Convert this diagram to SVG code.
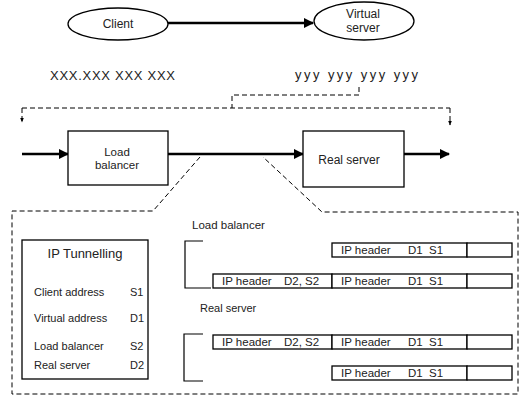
<svg xmlns="http://www.w3.org/2000/svg" width="522" height="398" viewBox="0 0 522 398">
<defs>
<marker id="ah" viewBox="0 0 10 10" refX="9" refY="5" markerWidth="4" markerHeight="4" orient="auto" markerUnits="strokeWidth">
<path d="M0,0 L10,5 L0,10 z" fill="#000"/>
</marker>
<marker id="ahs" viewBox="0 0 10 10" refX="9" refY="5" markerWidth="5" markerHeight="5" orient="auto" markerUnits="userSpaceOnUse">
<path d="M0,1 L10,5 L0,9 z" fill="#000"/>
</marker>
</defs>
<style>
text{font-family:"Liberation Sans",Arial,sans-serif;fill:#222}
.n{fill:#fff;stroke:#000;stroke-width:1.3}
.thick{stroke:#000;stroke-width:2.6;fill:none}
.dash{stroke:#000;stroke-width:1;fill:none;stroke-dasharray:5 3}
.thin{stroke:#000;stroke-width:1.2;fill:none}
.t11{font-size:11px}
.t115{font-size:11.5px}
.t12{font-size:12px}
.t13{font-size:13px}
</style>
<rect width="522" height="398" fill="#fff"/>
<g id="connectors">
<line class="thick" x1="168" y1="23" x2="313" y2="23" marker-end="url(#ah)"/>
<line class="thick" x1="22" y1="154" x2="68" y2="154" marker-end="url(#ah)"/>
<line class="thick" x1="168" y1="154" x2="303" y2="154" marker-end="url(#ah)"/>
<line class="thick" x1="404" y1="154" x2="449" y2="154" marker-end="url(#ah)"/>
<polyline class="dash" points="359,87 359,95 232,95 232,108"/>
<line class="dash" x1="22" y1="108" x2="450" y2="108"/>
<line class="dash" x1="22" y1="108" x2="22" y2="122" marker-end="url(#ahs)"/>
<line class="dash" x1="450" y1="108" x2="450" y2="125" marker-end="url(#ahs)"/>
<polyline class="dash" points="200,157 153,211 12,211 12,394 518,394 518,212 322,212 263,157"/>
</g>
<g id="client">
<ellipse class="n" cx="118" cy="24" rx="50" ry="16"/>
<text class="t12" x="118" y="28" text-anchor="middle">Client</text>
</g>
<g id="virtual-server">
<ellipse class="n" cx="364" cy="21" rx="50" ry="19"/>
<text class="t12" x="363" y="18" text-anchor="middle">Virtual</text>
<text class="t12" x="363" y="32" text-anchor="middle">server</text>
</g>
<g id="client-address">
<text class="t13" x="50" y="80" textLength="125" lengthAdjust="spacing">XXX.XXX XXX XXX</text>
</g>
<g id="virtual-address">
<text class="t13" x="295" y="79" textLength="123" lengthAdjust="spacing">yyy yyy yyy yyy</text>
</g>
<g id="load-balancer">
<rect class="n" x="68" y="131" width="100" height="54"/>
<text class="t115" x="117" y="156" text-anchor="middle">Load</text>
<text class="t115" x="117" y="169" text-anchor="middle">balancer</text>
</g>
<g id="real-server">
<rect class="n" x="303" y="131" width="101" height="56"/>
<text class="t12" x="349" y="164" text-anchor="middle">Real server</text>
</g>
<g id="ip-tunnelling">
<rect class="n" x="22" y="240" width="126" height="139"/>
<text class="t13" x="85" y="258" text-anchor="middle">IP Tunnelling</text>
<text class="t11" x="34" y="296">Client address</text><text class="t11" x="130" y="296">S1</text>
<text class="t11" x="34" y="322">Virtual address</text><text class="t11" x="130" y="322">D1</text>
<text class="t11" x="34" y="350">Load balancer</text><text class="t11" x="130" y="350">S2</text>
<text class="t11" x="34" y="369">Real server</text><text class="t11" x="130" y="369">D2</text>
</g>
<g id="lb-packets">
<text class="t115" x="192" y="229">Load balancer</text>
<polyline class="thin" points="203,241 185,241 185,288 211,288"/>
<rect class="n" x="332" y="243" width="135" height="14"/>
<rect class="n" x="467" y="243" width="45" height="14"/>
<text class="t115" x="341" y="254">IP header</text><text class="t115" x="408" y="254">D1</text><text class="t115" x="429" y="254">S1</text>
<rect class="n" x="213" y="274" width="119" height="14"/>
<rect class="n" x="332" y="274" width="135" height="14"/>
<rect class="n" x="467" y="274" width="45" height="14"/>
<text class="t115" x="222" y="285">IP header</text><text class="t115" x="284" y="285">D2, S2</text>
<text class="t115" x="341" y="285">IP header</text><text class="t115" x="408" y="285">D1</text><text class="t115" x="429" y="285">S1</text>
</g>
<g id="rs-packets">
<text class="t11" x="200" y="312">Real server</text>
<polyline class="thin" points="203,334 184,334 184,381 203,381"/>
<rect class="n" x="213" y="335" width="119" height="14"/>
<rect class="n" x="332" y="335" width="135" height="14"/>
<rect class="n" x="467" y="335" width="45" height="14"/>
<text class="t115" x="222" y="346">IP header</text><text class="t115" x="284" y="346">D2, S2</text>
<text class="t115" x="341" y="346">IP header</text><text class="t115" x="408" y="346">D1</text><text class="t115" x="429" y="346">S1</text>
<rect class="n" x="332" y="366" width="135" height="14"/>
<rect class="n" x="467" y="366" width="45" height="14"/>
<text class="t115" x="341" y="377">IP header</text><text class="t115" x="408" y="377">D1</text><text class="t115" x="429" y="377">S1</text>
</g>
</svg>
